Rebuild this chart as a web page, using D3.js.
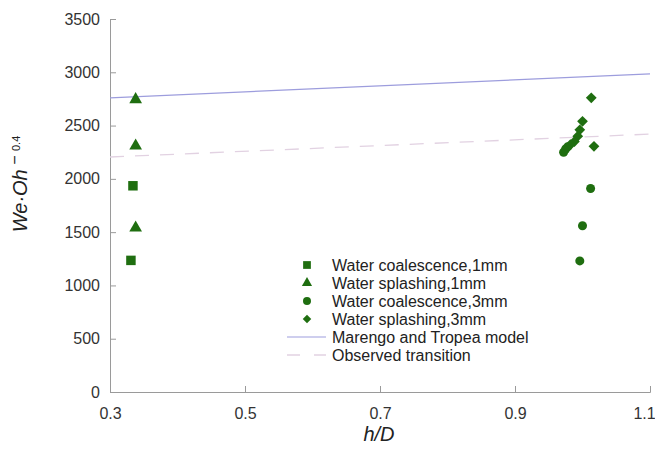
<!DOCTYPE html>
<html><head><meta charset="utf-8">
<script src="https://cdn.jsdelivr.net/npm/d3@7"></script>
<style>body{margin:0;background:#fff;} svg{display:block;font-family:"Liberation Sans",Arial,sans-serif;}</style>
</head><body>
<svg id="c" width="655" height="452"></svg>
<script>
const xTicks = [0.3, 0.5, 0.7, 0.9, 1.1];
const yTicks = [0, 500, 1000, 1500, 2000, 2500, 3000, 3500];
const coal1mm = [[0.331, 1235], [0.334, 1935]];
const splash1mm = [[0.338, 1540], [0.338, 2310], [0.338, 2745]];
const coal3mm = [[0.996, 1230], [1.000, 1560], [1.012, 1910], [0.972, 2250], [0.975, 2280], [0.978, 2300]];
const splash3mm = [[1.013, 2760], [1.000, 2540], [0.996, 2460], [0.993, 2400], [0.988, 2350], [0.982, 2320], [1.017, 2305]];
const marengo = [[0.3, 2760], [1.1, 2985]];
const observed = [[0.3, 2205], [1.1, 2420]];
const legendLabels = ["Water coalescence,1mm", "Water splashing,1mm", "Water coalescence,3mm", "Water splashing,3mm", "Marengo and Tropea model", "Observed transition"];

const svg = d3.select("#c");
const x = d3.scaleLinear().domain([0.3, 1.1]).range([110, 650]);
const y = d3.scaleLinear().domain([0, 3500]).range([392, 19]);
const green = "#1f6e10";
const axisCol = "#9a9a9a";

const xa = svg.append("g").attr("transform", "translate(0,392)")
  .call(d3.axisBottom(x).tickValues(xTicks).tickFormat(d3.format(".1f")).tickSize(-6).tickPadding(16));
const ya = svg.append("g").attr("transform", "translate(110,0)")
  .call(d3.axisLeft(y).tickValues(yTicks).tickFormat(d3.format("d")).tickSize(-6).tickPadding(10));
[xa, ya].forEach(g => {
  g.select(".domain").attr("stroke", axisCol);
  g.selectAll(".tick line").attr("stroke", axisCol);
  g.selectAll(".tick text").attr("fill", "#333").style("font-size", "16px").style("font-family", "Liberation Sans, Arial, sans-serif");
});
xa.selectAll(".tick text").filter(d => d === 1.1).attr("dx", -6);

const line = d3.line().x(d => x(d[0])).y(d => y(d[1]));
svg.append("path").datum(marengo).attr("d", line).attr("fill", "none").attr("stroke", "#9d9ddd").attr("stroke-width", 1.2);
svg.append("path").datum(observed).attr("d", line).attr("fill", "none").attr("stroke", "#e2d2e2").attr("stroke-width", 1.3).attr("stroke-dasharray", "14,11");

const shapes = [
  {data: coal1mm, sym: d3.symbolSquare, size: 90, rot: 0},
  {data: splash1mm, sym: d3.symbolTriangle, size: 70, rot: 0},
  {data: coal3mm, sym: d3.symbolCircle, size: 64, rot: 0},
  {data: splash3mm, sym: d3.symbolSquare, size: 58, rot: 45}
];
shapes.forEach(s => {
  svg.append("g").selectAll("path").data(s.data).join("path")
    .attr("transform", d => `translate(${x(d[0])},${y(d[1])}) rotate(${s.rot})`)
    .attr("d", d3.symbol().type(s.sym).size(s.size))
    .attr("fill", green);
});

// legend
const lg = svg.append("g");
const rowY = i => 265 + i * 18;
const legSyms = [[d3.symbolSquare, 60, 0], [d3.symbolTriangle, 45, 0], [d3.symbolCircle, 50, 0], [d3.symbolSquare, 36, 45]];
legSyms.forEach((s, i) => {
  lg.append("path").attr("transform", `translate(307,${rowY(i)}) rotate(${s[2]})`).attr("d", d3.symbol().type(s[0]).size(s[1])).attr("fill", green);
});
lg.append("line").attr("x1", 287).attr("x2", 326).attr("y1", rowY(4)).attr("y2", rowY(4)).attr("stroke", "#9d9ddd").attr("stroke-width", 1.2);
lg.append("line").attr("x1", 287).attr("x2", 326).attr("y1", rowY(5)).attr("y2", rowY(5)).attr("stroke", "#e2d2e2").attr("stroke-width", 1.3).attr("stroke-dasharray", "13,14");
legendLabels.forEach((t, i) => {
  lg.append("text").attr("x", 332).attr("y", rowY(i)).attr("dy", "0.36em").attr("fill", "#222").style("font-size", "16px").text(t);
});

// axis titles
svg.append("text").attr("x", 379).attr("y", 441).attr("text-anchor", "middle").style("font-size", "20px").style("font-style", "italic").attr("fill", "#222").text("h/D");
const yt = svg.append("text").attr("transform", "translate(27,184) rotate(-90)").attr("text-anchor", "middle").attr("fill", "#222").style("font-size", "20px");
yt.append("tspan").style("font-style", "italic").text("We·Oh");
yt.append("tspan").attr("dy", "-7").style("font-size", "16px").text(" − ");
yt.append("tspan").style("font-size", "11px").text("0.4");
</script>
</body></html>
